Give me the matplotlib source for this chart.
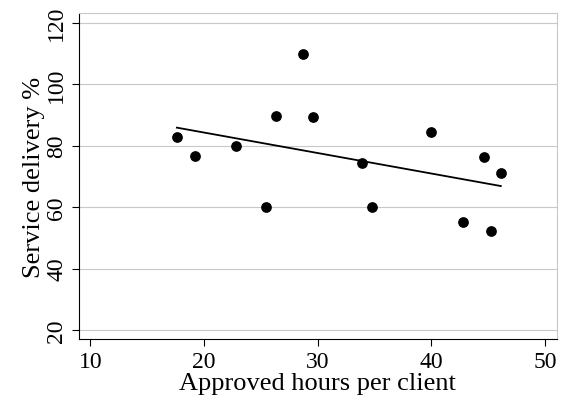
import numpy as np
import matplotlib.pyplot as plt

plt.rcParams['font.family'] = ['Liberation Serif', 'DejaVu Serif']

hours = [17.6, 19.2, 22.8, 25.4, 26.3, 28.7, 29.6, 33.9, 34.8, 40.0, 42.8, 44.6, 45.2, 46.1]
delivery = [82.7, 76.7, 80.0, 60.0, 89.7, 109.7, 89.3, 74.3, 60.0, 84.3, 55.0, 76.3, 52.3, 71.0]

fig, ax = plt.subplots(figsize=(5.65, 4.10), dpi=100)
fig.subplots_adjust(left=0.14, right=0.985, top=0.965, bottom=0.17)

ax.scatter(hours, delivery, s=45, color='black', zorder=3)
b, a = np.polyfit(hours, delivery, 1)
xs = np.array([min(hours), max(hours)])
ax.plot(xs, a + b * xs, color='black', lw=1.3, zorder=2)

ax.set_xlim(9, 51)
ax.set_ylim(17, 123)
ax.set_xticks([10, 20, 30, 40, 50])
ax.set_yticks([20, 40, 60, 80, 100, 120])
ax.yaxis.grid(True, color='#c8c8c8', lw=0.8)
ax.set_axisbelow(True)
for lbl in ax.get_yticklabels():
    lbl.set_rotation(90)
    lbl.set_va('center')
ax.tick_params(labelsize=17, length=5)
for s in ['top', 'right']:
    ax.spines[s].set_color('#c8c8c8')
ax.set_xlabel('Approved hours per client', fontsize=19, labelpad=0)
ax.set_ylabel('Service delivery %', fontsize=19, labelpad=1)

fig.savefig('out.png')
